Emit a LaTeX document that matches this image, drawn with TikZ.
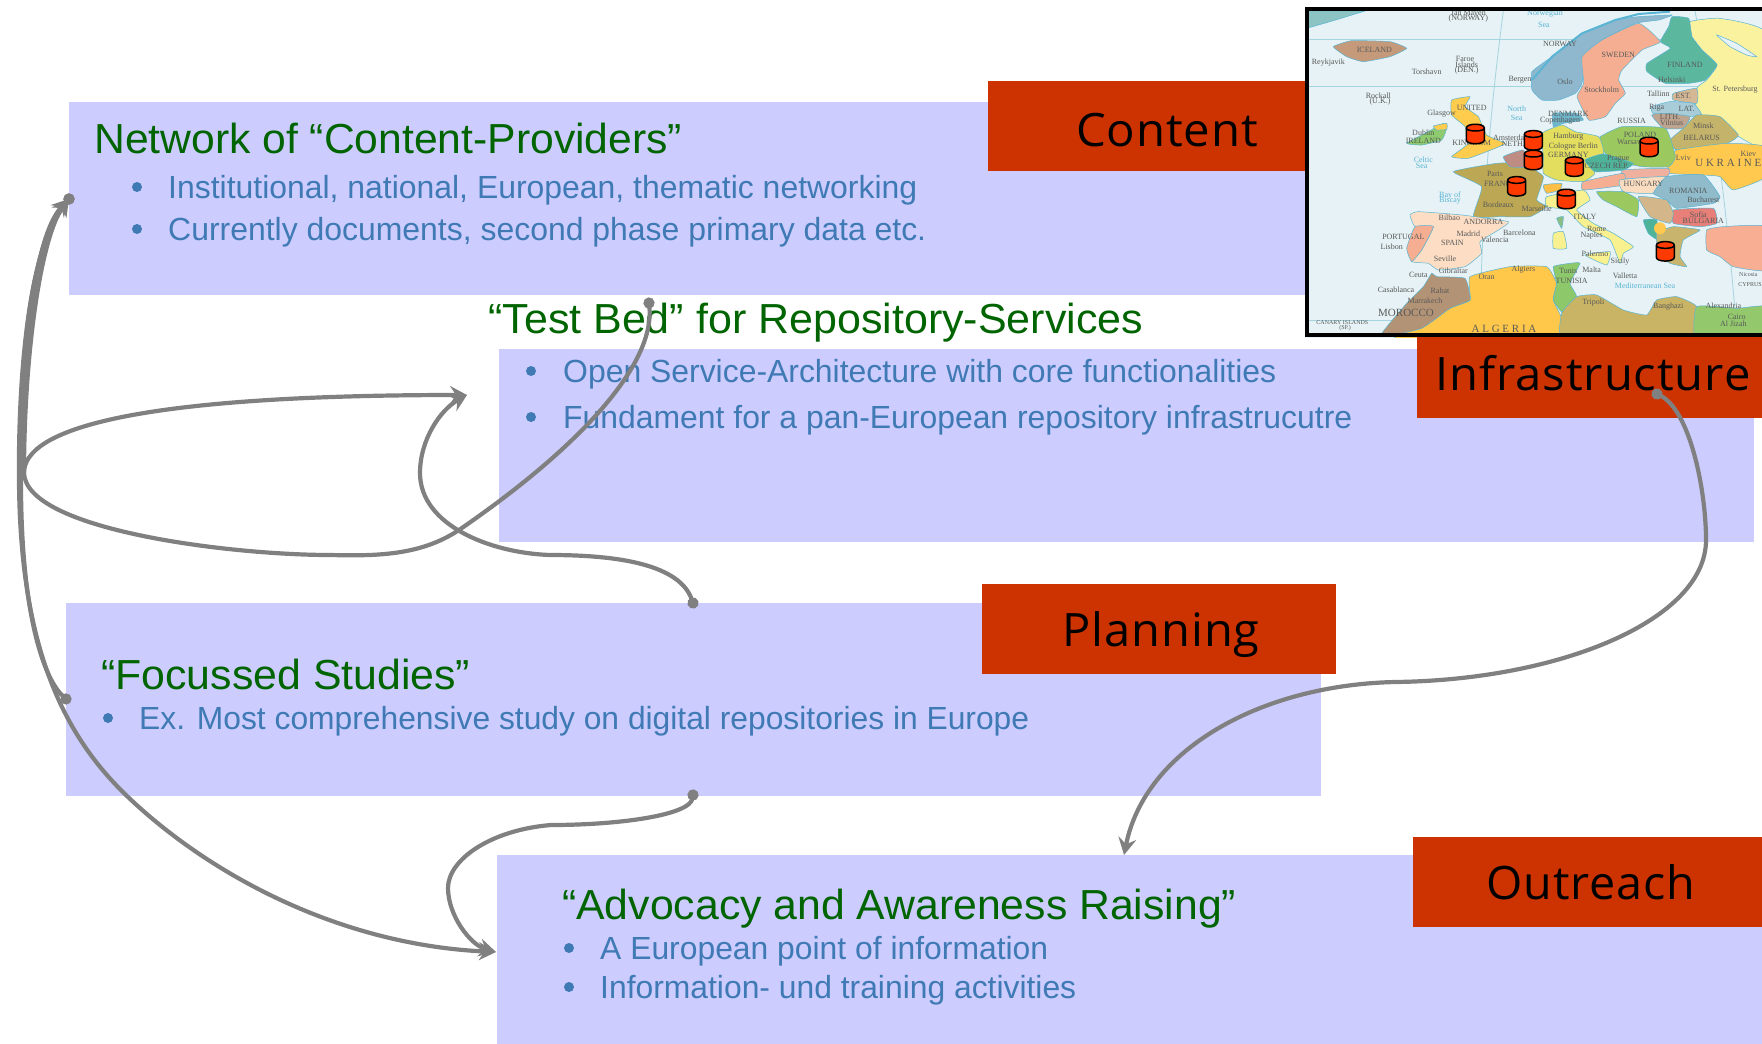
\documentclass[tikz,border=0pt]{standalone}
\usepackage{fontspec}
\usetikzlibrary{arrows.meta}
\setmainfont{Liberation Sans}
\newfontfamily\tagf[LetterSpace=2]{Open Sans}
\newfontfamily\mapf{Liberation Serif}
\definecolor{boxc}{HTML}{CCCCFF}
\definecolor{redc}{HTML}{CC3300}
\definecolor{titlec}{HTML}{006400}
\definecolor{bodyc}{HTML}{3F7AB5}
\definecolor{linkc}{HTML}{808080}
\definecolor{sea}{HTML}{E6F2F5}
\definecolor{grat}{HTML}{A4D4DE}
\definecolor{coast}{HTML}{5AB4D4}
\definecolor{cyl}{HTML}{FF3A00}
\newcommand{\fw}[2]{\resizebox{#1pt}{\height}{#2}}
\tikzset{
  x=1pt,y=-1pt,
  panel/.style={fill=boxc,draw=none},
  tagbox/.style={fill=redc,draw=none},
  title/.style={anchor=base west,inner sep=0,text=titlec,font=\fontsize{42}{42}\selectfont},
  body/.style={anchor=base west,inner sep=0,text=bodyc,font=\fontsize{32}{32}\selectfont},
  tag/.style={anchor=base,inner sep=0,text=black,font=\fontsize{46}{46}\tagf},
  bul/.style={circle,fill=bodyc,inner sep=0,minimum size=10pt},
  link/.style={draw=linkc,line width=4.2pt},
  go/.style={link,shorten <=-5.5pt,{Circle[length=11pt,width=11pt]}-{Stealth[length=17pt,width=18pt,inset=6pt]}},
  land/.style={draw=coast,line width=.5pt},
  ml/.style={inner sep=0,text=black!65,font=\fontsize{8}{8}\mapf},
  mt/.style={inner sep=0,text=black!65,font=\fontsize{6}{6}\mapf},
  mh/.style={inner sep=0,text=black!65,font=\fontsize{11}{11}\mapf},
  mb/.style={inner sep=0,text=coast,font=\fontsize{8}{8}\mapf},
}
\newcommand{\area}[2]{\fill[land,fill=#1] plot[smooth cycle,tension=.25] coordinates {#2};}
\newcommand{\drum}[3]{%
  \draw[fill=cyl,draw=black,line width=1.5pt] (#1-27,#2-18) -- (#1-27,#2+18)
    .. controls (#1-27,#2+33) and (#1+27,#2+33) .. (#1+27,#2+18) -- (#1+27,#2-18)
    .. controls (#1+27,#2-33) and (#1-27,#2-33) .. (#1-27,#2-18)
    .. controls (#1-27,#2-6) and (#1+27,#2-6) .. (#1+27,#2-18);
  \coordinate (#3) at (#1,#2);}
\begin{document}
\begin{tikzpicture}
\useasboundingbox (0,0) rectangle (1762,1044);
% panels
\fill[panel] (69,102) rectangle (1320,295);
\fill[tagbox] (988,81) rectangle (1310,171);
\fill[panel] (499,349) rectangle (1754,542);
\fill[panel] (66,603) rectangle (1321,796);
\fill[tagbox] (982,584) rectangle (1336,674);
\fill[panel] (497,855) rectangle (1762,1044);
\fill[tagbox] (1413,837) rectangle (1762,927);
% map
\begin{scope}
\clip (1305,7) rectangle (1762,337);
\begin{scope}[shift={(1290,0)},x=.33333pt,y=-.33333pt]
\fill[sea] (40,10) rectangle (1430,1020);
\fill[land,fill={rgb,255:red,140;green,196;blue,196}] (50,33) -- (225,33) -- (130,62) -- (50,85) -- cycle;
\draw[grat,line width=.8pt] (50,118) -- (1430,118) (50,258) -- (1430,258) (50,960) -- (1430,960);
\draw[grat,line width=.8pt] (640,33) .. controls (605,300) and (575,600) .. (570,998);
\draw[grat,line width=.8pt] (1215,33) .. controls (1265,300) and (1310,600) .. (1340,998);
\area{{rgb,255:red,196;green,154;blue,122}}{(130,140) (185,122) (300,125) (350,145) (300,170) (220,185) (170,170)}
\area{{rgb,255:red,143;green,184;blue,207}}{(726,215) (786,170) (876,100) (976,60) (1046,50) (1146,45) (1106,60) (1036,70) (936,120) (886,170) (876,250) (856,280) (806,300) (756,300) (726,270)}
\draw[coast,line width=2pt] (726,240) -- (786,170) -- (876,100) -- (976,60) -- (1046,42) -- (1140,35);
\area{{rgb,255:red,245;green,174;blue,146}}{(1046,70) (1111,125) (1056,150) (996,210) (986,240) (1006,280) (976,310) (946,350) (896,360) (861,290) (881,250) (876,170) (936,120)}
\area{{rgb,255:red,251;green,242;blue,160}}{(1200,65) (1290,55) (1430,100) (1430,440) (1330,400) (1300,370) (1220,350) (1220,265) (1250,240) (1281,195) (1236,150) (1206,110)}
\area{sea}{(1280,105) (1340,130) (1400,170) (1370,165) (1320,140)}
\area{{rgb,255:red,91;green,184;blue,159}}{(1146,50) (1196,55) (1206,110) (1236,150) (1281,195) (1246,240) (1196,250) (1126,250) (1071,215) (1071,190) (1141,145) (1111,125) (1136,80)}
\area{{rgb,255:red,212;green,184;blue,150}}{(1150,280) (1220,265) (1220,310) (1150,300)}
\area{{rgb,255:red,168;green,204;blue,216}}{(1085,320) (1140,305) (1210,310) (1235,345) (1180,350) (1090,340)}
\area{{rgb,255:red,191;green,165;blue,143}}{(1085,345) (1130,340) (1200,350) (1180,385) (1120,385)}
\area{{rgb,255:red,196;green,179;blue,106}}{(1180,385) (1220,345) (1290,350) (1345,405) (1310,430) (1160,450) (1140,420)}
\area{{rgb,255:red,255;green,201;blue,79}}{(1160,450) (1310,430) (1430,440) (1430,530) (1330,570) (1290,530) (1240,525) (1140,520) (1130,490)}
\area{{rgb,255:red,156;green,200;blue,96}}{(931,410) (996,380) (1126,385) (1156,470) (1136,500) (1056,500) (966,480) (931,440)}
\area{{rgb,255:red,111;green,180;blue,201}}{(790,340) (860,340) (880,360) (820,370) (790,380)}
\area{{rgb,255:red,227;green,222;blue,94}}{(756,400) (816,375) (856,395) (926,410) (941,460) (890,480) (915,520) (880,545) (800,540) (760,520) (760,470)}
\area{{rgb,255:red,79;green,179;blue,154}}{(885,480) (940,462) (1030,490) (1000,510) (915,515)}
\area{{rgb,255:red,240;green,176;blue,160}}{(1000,510) (1135,505) (1130,530) (1000,535)}
\area{{rgb,255:red,245;green,174;blue,146}}{(880,545) (1000,520) (1000,555) (880,570)}
\area{{rgb,255:red,250;green,220;blue,192}}{(990,540) (1130,530) (1090,580) (1000,575)}
\area{{rgb,255:red,143;green,187;blue,203}}{(1090,580) (1130,530) (1240,525) (1290,590) (1270,610) (1160,625) (1130,600)}
\area{{rgb,255:red,232;green,127;blue,120}}{(1150,630) (1270,625) (1280,670) (1230,680) (1150,670)}
\area{{rgb,255:red,211;green,183;blue,138}}{(1045,590) (1130,600) (1150,640) (1140,670) (1080,650)}
\area{{rgb,255:red,156;green,200;blue,96}}{(920,575) (1000,575) (1045,600) (1040,650) (980,620) (940,600)}
\area{{rgb,255:red,79;green,179;blue,154}}{(1060,660) (1100,660) (1105,720) (1075,700)}
\area{{rgb,255:red,201;green,180;blue,110}}{(1100,700) (1150,680) (1230,690) (1180,720) (1170,770) (1190,800) (1140,790) (1105,760)}
\fill[fill={rgb,255:red,255;green,201;blue,79}] (1110,685) circle [radius=6pt];
\area{{rgb,255:red,248;green,174;blue,146}}{(1250,690) (1300,680) (1430,680) (1430,810) (1330,800) (1290,770) (1250,750)}
\area{{rgb,255:red,188;green,168;blue,84}}{(490,515) (620,490) (700,490) (760,530) (740,600) (770,620) (720,650) (630,650) (550,650) (575,560)}
\area{{rgb,255:red,190;green,140;blue,130}}{(640,470) (700,450) (710,500) (660,500)}
\area{{rgb,255:red,255;green,190;blue,70}}{(760,555) (815,550) (810,570) (770,580)}
\area{{rgb,255:red,249;green,240;blue,143}}{(770,590) (880,570) (900,600) (860,630) (910,670) (970,700) (1030,740) (1000,760) (990,790) (960,720) (880,680) (830,630) (770,620)}
\area{{rgb,255:red,249;green,240;blue,143}}{(885,765) (960,755) (950,795)}
\area{{rgb,255:red,249;green,240;blue,143}}{(790,700) (820,695) (830,745) (790,745)}
\area{{rgb,255:red,140;green,190;blue,130}}{(800,655) (820,650) (815,685)}
\area{{rgb,255:red,253;green,222;blue,196}}{(360,645) (385,635) (515,645) (655,665) (625,690) (570,725) (575,760) (525,800) (445,810) (415,790) (365,785) (395,750) (430,680) (375,680)}
\area{{rgb,255:red,245;green,174;blue,146}}{(375,680) (430,680) (395,750) (365,785) (350,745)}
\area{{rgb,255:red,255;green,204;blue,77}}{(485,300) (540,290) (525,320) (565,350) (590,405) (645,430) (615,445) (535,475) (485,470) (535,430) (525,380) (485,345)}
\area{{rgb,255:red,141;green,203;blue,110}}{(415,395) (460,370) (470,385) (455,420) (395,435) (350,430)}
\area{{rgb,255:red,255;green,204;blue,77}}{(430,378) (470,370) (470,388) (440,390)}
\area{{rgb,255:red,255;green,200;blue,74}}{(540,830) (660,800) (770,800) (800,850) (790,900) (825,1030) (300,1030) (480,925) (540,900)}
\area{{rgb,255:red,179;green,147;blue,117}}{(425,820) (440,830) (525,835) (540,900) (480,925) (395,985) (270,1010) (350,910) (400,860)}
\area{{rgb,255:red,141;green,200;blue,106}}{(790,800) (840,790) (870,790) (840,850) (860,890) (820,940) (790,900) (800,850)}
\area{{rgb,255:red,201;green,180;blue,101}}{(825,1030) (815,940) (860,890) (920,885) (1000,930) (1070,945) (1100,900) (1160,890) (1220,920) (1220,1030)}
\area{{rgb,255:red,147;green,201;blue,108}}{(1220,1030) (1220,920) (1340,925) (1430,920) (1430,1030)}
\foreach \mx/\my/\mt [count=\i] in {
 535/40/Jan Mayen,535/55/(NORWAY),253/150/ICELAND,115/187/Reykjavik,525/178/Faroe,530/195/Islands,530/212/(DEN.),410/216/Torshavn,265/288/Rockall,270/305/(U.K.),
 810/133/NORWAY,985/165/SWEDEN,1185/196/FINLAND,1145/240/Helsinki,825/245/Oslo,935/268/Stockholm,690/240/Bergen,1335/268/St. Petersburg,1105/282/Tallinn,1180/288/EST.,
 1100/322/Riga,1190/328/LAT.,1140/350/LITH.,1145/368/Vilnius,1240/377/Minsk,1235/413/BELARUS,1025/362/RUSSIA,545/325/UNITED,545/430/KINGDOM,400/423/IRELAND,400/398/Dublin,
 455/342/Glasgow,665/413/Amsterdam,670/433/NETH.,810/362/Copenhagen,835/342/DENMARK,835/410/Hamburg,850/440/Cologne Berlin,835/465/GERMANY,1050/405/POLAND,1020/427/Warsaw,
 985/475/Prague,950/497/CZECH REP.,1375/462/Kiev,1180/475/Lviv,615/523/Paris,630/552/FRANCE,625/615/Bordeaux,740/625/Marseille,580/667/ANDORRA,478/652/Bilbao,535/700/Madrid,
 487/730/SPAIN,340/710/PORTUGAL,305/740/Lisbon,465/775/Seville,688/698/Barcelona,615/720/Valencia,1195/572/ROMANIA,1240/600/Bucharest,1060/552/HUNGARY,1225/645/Sofia,1240/662/BULGARIA,
 885/650/ITALY,920/688/Rome,905/707/Naples,915/760/Palermo,990/785/Sicily,845/842/TUNISIA,835/812/Tunis,905/808/Malta,1005/826/Valletta,910/908/Tripoli,1135/920/Banghazi,
 1300/917/Alexandria,1340/950/Cairo,1330/972/Al Jizah,700/810/Algiers,590/832/Oran,450/872/Rabat,318/870/Casablanca,405/902/Marrakech,490/812/Gibraltar,385/826/Ceuta}
  {\node[ml] (ml\i) at (\mx,\my) {\mt};}
\node[mt] (mcan) at (157,968) {CANARY ISLANDS};
\node[mt] (msp) at (165,985) {(SP.)};
\node[mt] (mnic) at (1375,825) {Nicosia};
\node[mt] (mcyp) at (1380,855) {CYPRUS};
\foreach \mx/\my/\mt [count=\i] in {765/42/Norwegian,762/75/Sea,680/325/North,680/353/Sea,400/480/Celtic,395/497/Sea,480/587/Bay of,480/603/Biscay,1065/858/Mediterranean Sea}
  {\node[mb] (mb\i) at (\mx,\my) {\mt};}
\node[mh] (mmor) at (348,940) {MOROCCO};
\node[mh] (malg) at (642,988) {A L G E R I A};
\node[mh] (mukr) at (1315,490) {U K R A I N E};
\drum{556}{402}{d1}
\drum{730}{421}{d2}
\drum{730}{480}{d3}
\drum{853}{500}{d4}
\drum{1077}{441}{d5}
\drum{680}{559}{d6}
\drum{829}{597}{d7}
\drum{1126}{754}{d8}
\end{scope}
\end{scope}
\draw[black,line width=4pt] (1307,9) rectangle (1790,335);
\fill[tagbox] (1417,337) rectangle (1762,418);
% tags
\node[tag] (tcontent) at (1167,146) {\fw{182}{Content}};
\node[tag] (tinfra) at (1593,390) {\fw{315}{Infrastructure}};
\node[tag] (tplan) at (1161,646) {\fw{197}{Planning}};
\node[tag] (toutr) at (1591,899) {\fw{209}{Outreach}};
% texts
\node[title] (n1) at (94,153) {\fw{588}{Network of “Content-Providers”}};
\node[bul] (b11) at (137,187) {};
\node[body] (n11) at (168,198) {\fw{749}{Institutional, national, European, thematic networking}};
\node[bul] (b12) at (137,229) {};
\node[body] (n12) at (168,240) {\fw{758}{Currently documents, second phase primary data etc.}};
\node[title] (n2) at (488,333) {\fw{655}{“Test Bed” for Repository-Services}};
\node[bul] (b21) at (531,371) {};
\node[body] (n21) at (563,382) {\fw{713}{Open Service-Architecture with core functionalities}};
\node[bul] (b22) at (531,417) {};
\node[body] (n22) at (563,428) {\fw{789}{Fundament for a pan-European repository infrastrucutre}};
\node[title] (n3) at (101,689) {\fw{369}{“Focussed Studies”}};
\node[bul] (b31) at (108,718) {};
\node[body] (n31) at (139,729) {\fw{890}{Ex. Most comprehensive study on digital repositories in Europe}};
\node[title] (n4) at (562,919) {\fw{674}{“Advocacy and Awareness Raising”}};
\node[bul] (b41) at (569,948) {};
\node[body] (n41) at (600,959) {\fw{448}{A European point of information}};
\node[bul] (b42) at (569,987) {};
\node[body] (n42) at (600,998) {\fw{476}{Information- und training activities}};
% connector ends
\coordinate (netL) at (69,199);
\coordinate (bedT) at (649,303);
\coordinate (bedA) at (467,395);
\coordinate (focL) at (66,699);
\coordinate (focT) at (693,603);
\coordinate (focB) at (693,795);
\coordinate (advA) at (496,952);
\coordinate (advT) at (1124,855);
\coordinate (infD) at (1657,394);
% connectors
\draw[go] (bedT) .. controls (655,360) and (590,440) .. (459,530)
   .. controls (420,556) and (375,556) .. (330,555)
   .. controls (230,555) and (26,530) .. (24,473)
   .. controls (22,380) and (30,240) .. (netL);
\draw[go] (netL) .. controls (40,230) and (24,360) .. (24,473)
   .. controls (24,430) and (130,395) .. (bedA);
\draw[go] (netL) .. controls (30,240) and (18,370) .. (19,480)
   .. controls (20,650) and (65,737) .. (128,797)
   .. controls (210,875) and (340,945) .. (advA);
\draw[go] (focL) .. controls (45,680) and (22,620) .. (21,490)
   .. controls (20,380) and (25,260) .. (netL);
\draw[go] (focT) .. controls (680,565) and (620,555) .. (550,555)
   .. controls (490,553) and (420,525) .. (420,473)
   .. controls (420,440) and (440,410) .. (bedA);
\draw[go] (focB) .. controls (690,815) and (620,825) .. (551,825)
   .. controls (490,830) and (448,860) .. (448,888)
   .. controls (448,915) and (470,945) .. (advA);
\draw[go] (infD) .. controls (1690,410) and (1706,490) .. (1706,540)
   .. controls (1706,620) and (1560,680) .. (1395,682)
   .. controls (1260,685) and (1145,750) .. (advT);
\end{tikzpicture}
\end{document}
